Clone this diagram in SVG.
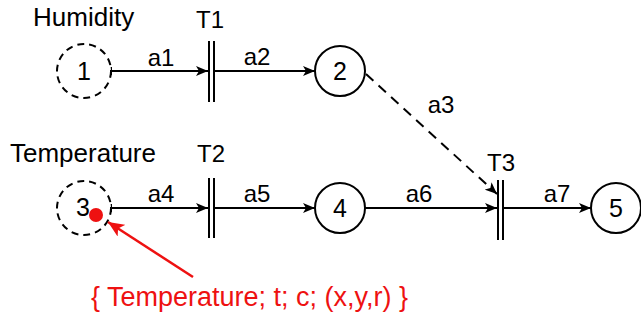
<svg xmlns="http://www.w3.org/2000/svg" width="641" height="320" viewBox="0 0 641 320">
<style>
text{font-family:"Liberation Sans",Arial,sans-serif;fill:#000}
.lbl{font-size:26px}
.sm{font-size:24px;text-anchor:middle}
.num{font-size:25px;text-anchor:middle}
.place{fill:#fff;stroke:#000;stroke-width:2}
.dash{stroke-dasharray:7 5}
.bar{stroke:#000;stroke-width:2}
.arc{stroke:#000;stroke-width:2;fill:none}
.red{fill:#ee1111}
</style>
<defs>
<marker id="ah" viewBox="0 0 12 10" refX="12" refY="5" markerWidth="12" markerHeight="10" markerUnits="userSpaceOnUse" orient="auto">
<path d="M0,0 L12,5 L0,10 L3,5 Z" fill="#000"/>
</marker>
<marker id="ahr" viewBox="0 0 16 14" refX="16" refY="7" markerWidth="16" markerHeight="14" markerUnits="userSpaceOnUse" orient="auto">
<path d="M0,0 L16,7 L0,14 L4,7 Z" fill="#ee1111"/>
</marker>
</defs>
<g id="labels">
<text class="lbl" x="33" y="26">Humidity</text>
<text class="lbl" x="10" y="162">Temperature</text>
</g>
<g id="connectors">
<line class="arc" x1="111" y1="71" x2="208" y2="71" marker-end="url(#ah)"/>
<line class="arc" x1="111" y1="67" x2="111" y2="75"/>
<line class="arc" x1="214" y1="71" x2="315" y2="71" marker-end="url(#ah)"/>
<line class="arc" x1="111" y1="208" x2="208" y2="208" marker-end="url(#ah)"/>
<line class="arc" x1="111" y1="204" x2="111" y2="212"/>
<line class="arc" x1="214" y1="208" x2="315" y2="208" marker-end="url(#ah)"/>
<line class="arc" x1="365" y1="208" x2="497" y2="208" marker-end="url(#ah)"/>
<line class="arc" x1="503" y1="208" x2="591" y2="208" marker-end="url(#ah)"/>
<line class="arc" x1="366" y1="74" x2="497" y2="194" stroke-dasharray="10 7" marker-end="url(#ah)"/>
<text class="sm" x="161" y="66">a1</text>
<text class="sm" x="257" y="65">a2</text>
<text class="sm" x="441" y="113">a3</text>
<text class="sm" x="161" y="202">a4</text>
<text class="sm" x="257" y="202">a5</text>
<text class="sm" x="419" y="202">a6</text>
<text class="sm" x="557" y="202">a7</text>
</g>
<g id="P1"><circle class="place dash" cx="84" cy="71" r="27"/><text class="num" x="84" y="80">1</text></g>
<g id="P2"><circle class="place" cx="340" cy="71" r="25"/><text class="num" x="340" y="80">2</text></g>
<g id="P3"><circle class="place dash" cx="84" cy="208" r="27"/><text class="num" x="83" y="216">3</text></g>
<g id="P4"><circle class="place" cx="340" cy="208" r="25"/><text class="num" x="340" y="217">4</text></g>
<g id="P5"><circle class="place" cx="616" cy="208" r="25"/><text class="num" x="616" y="217">5</text></g>
<g id="T1"><line class="bar" x1="209" y1="41" x2="209" y2="102"/><line class="bar" x1="214" y1="41" x2="214" y2="102"/><text class="sm" x="210" y="28">T1</text></g>
<g id="T2"><line class="bar" x1="209" y1="178" x2="209" y2="238"/><line class="bar" x1="214" y1="178" x2="214" y2="238"/><text class="sm" x="211" y="162">T2</text></g>
<g id="T3"><line class="bar" x1="498" y1="180" x2="498" y2="240"/><line class="bar" x1="503" y1="180" x2="503" y2="240"/><text class="sm" x="501" y="171">T3</text></g>
<g id="token">
<circle cx="96" cy="215" r="7" class="red"/>
<line x1="193" y1="277" x2="108" y2="222" stroke="#ee1111" stroke-width="2.5" marker-end="url(#ahr)"/>
<text x="91" y="306" font-size="27" class="red" style="fill:#ee1111">{ Temperature; t; c; (x,y,r) }</text>
</g>
</svg>
